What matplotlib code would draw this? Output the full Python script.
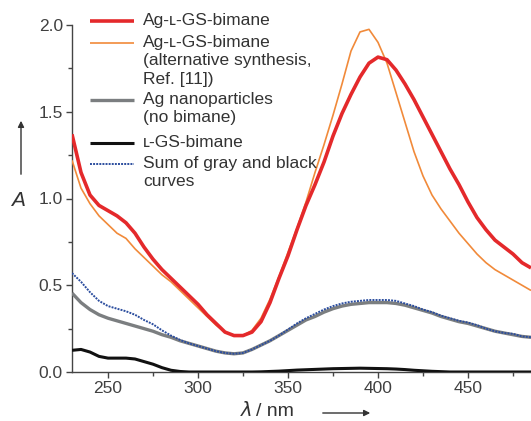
import numpy as np
import matplotlib.pyplot as plt

plt.rcParams['font.family'] = ['Liberation Sans', 'DejaVu Sans']

# wavelength grid (nm)
wl = [230, 235, 240, 245, 250, 255, 260, 265, 270, 275, 280, 285, 290, 295, 300,
      305, 310, 315, 320, 325, 330, 335, 340, 345, 350, 355, 360, 365, 370, 375,
      380, 385, 390, 395, 400, 405, 410, 415, 420, 425, 430, 435, 440, 445, 450,
      455, 460, 465, 470, 475, 480, 485]

ag_bimane = [1.37, 1.15, 1.02, 0.96, 0.93, 0.90, 0.86, 0.80, 0.72, 0.65, 0.59, 0.54, 0.49, 0.44, 0.39,
             0.33, 0.28, 0.23, 0.21, 0.21, 0.23, 0.29, 0.40, 0.54, 0.67, 0.82, 0.96, 1.08, 1.21, 1.36,
             1.49, 1.60, 1.70, 1.78, 1.815, 1.80, 1.74, 1.66, 1.57, 1.47, 1.37, 1.27, 1.17, 1.08, 0.98,
             0.89, 0.82, 0.76, 0.72, 0.68, 0.63, 0.60]

ag_bimane_alt = [1.22, 1.06, 0.97, 0.90, 0.85, 0.80, 0.77, 0.71, 0.66, 0.61, 0.56, 0.52, 0.47, 0.42, 0.37,
                 0.32, 0.27, 0.23, 0.21, 0.21, 0.24, 0.31, 0.42, 0.55, 0.69, 0.83, 0.98, 1.15, 1.31, 1.48,
                 1.66, 1.85, 1.96, 1.975, 1.90, 1.78, 1.61, 1.44, 1.27, 1.13, 1.02, 0.94, 0.87, 0.80, 0.74,
                 0.68, 0.63, 0.59, 0.56, 0.53, 0.50, 0.47]

ag_np = [0.455, 0.40, 0.36, 0.33, 0.31, 0.295, 0.28, 0.265, 0.25, 0.235, 0.215, 0.20, 0.18, 0.165, 0.15,
         0.135, 0.12, 0.11, 0.105, 0.11, 0.13, 0.155, 0.18, 0.21, 0.24, 0.27, 0.30, 0.32, 0.345, 0.365,
         0.38, 0.39, 0.395, 0.40, 0.40, 0.40, 0.395, 0.385, 0.37, 0.355, 0.34, 0.32, 0.305, 0.29, 0.28,
         0.265, 0.25, 0.235, 0.225, 0.215, 0.205, 0.20]

gs_bimane = [0.125, 0.13, 0.115, 0.09, 0.08, 0.08, 0.08, 0.075, 0.06, 0.045, 0.025, 0.01, 0.003, 0.0, 0.0,
             0.0, 0.0, 0.0, 0.0, 0.0, 0.0, 0.001, 0.003, 0.005, 0.008, 0.011, 0.013, 0.015, 0.017, 0.019,
             0.02, 0.021, 0.022, 0.021, 0.02, 0.019, 0.017, 0.014, 0.01, 0.007, 0.004, 0.002, 0.0, 0.0, 0.0,
             0.0, 0.0, 0.0, 0.0, 0.0, 0.0, 0.0]

sum_curve = [0.57, 0.52, 0.46, 0.41, 0.38, 0.365, 0.35, 0.33, 0.30, 0.275, 0.24, 0.21, 0.185, 0.165, 0.15,
             0.135, 0.12, 0.11, 0.105, 0.11, 0.13, 0.155, 0.18, 0.21, 0.245, 0.28, 0.31, 0.335, 0.36, 0.38,
             0.395, 0.405, 0.41, 0.415, 0.415, 0.415, 0.41, 0.395, 0.38, 0.36, 0.345, 0.325, 0.31, 0.295, 0.285,
             0.27, 0.25, 0.235, 0.225, 0.22, 0.205, 0.20]

labels = ["Ag-\u029f-GS-bimane",
          "Ag-\u029f-GS-bimane\n(alternative synthesis,\nRef. [11])",
          "Ag nanoparticles\n(no bimane)",
          "\u029f-GS-bimane",
          "Sum of gray and black\ncurves"]

W, H = 531, 421
fig = plt.figure(figsize=(W / 100, H / 100), dpi=100)
ax = fig.add_axes([72 / W, 1 - 372 / H, 1 - 72 / W, (372 - 25) / H])

styles = [
    dict(color='#e4292b', lw=2.6, ls='-'),
    dict(color='#f18a3a', lw=1.2, ls='-'),
    dict(color='#7b7e80', lw=2.4, ls='-'),
    dict(color='#111111', lw=2.2, ls='-'),
    dict(color='#2b4d9e', lw=1.4, ls=(0, (1, 0.6))),
]
series = [ag_bimane, ag_bimane_alt, ag_np, gs_bimane, sum_curve]
order = [2, 3, 4, 1, 0]
for i in order:
    ax.plot(wl, series[i], solid_capstyle='butt', zorder=3 + (i == 0), **styles[i])

ax.set_xlim(230, 485)
ax.set_ylim(0, 2.0)
ax.set_xticks([250, 300, 350, 400, 450])
ax.set_xticks([275, 325, 375, 425, 475], minor=True)
ax.set_yticks([0.0, 0.5, 1.0, 1.5, 2.0])
ax.set_yticks([0.25, 0.75, 1.25, 1.75], minor=True)
ax.set_yticklabels(['0.0', '0.5', '1.0', '1.5', '2.0'])
for s in ['top', 'right']:
    ax.spines[s].set_visible(False)
for s in ['left', 'bottom']:
    ax.spines[s].set_color('#444444')
    ax.spines[s].set_linewidth(1.0)
ax.tick_params(which='major', direction='out', length=4, width=1.0, color='#444444',
               labelsize=12.5, labelcolor='#404040', pad=2.5)
ax.tick_params(which='minor', direction='out', length=3, width=1.0, color='#444444')

# legend drawn by hand so the handle sits on the first text line
line_y = [21, 43, 100, 143, 164]
for i, y in enumerate(line_y):
    yf = 1 - y / H
    fig.add_artist(plt.Line2D([90 / W, 134 / W], [yf, yf], transform=fig.transFigure,
                              solid_capstyle='butt', **styles[i]))
    fig.text(143 / W, 1 - (y - 8) / H, labels[i], fontsize=12.5, color='#333333',
             va='top', ha='left', linespacing=1.28)

# axis labels with arrows
fig.text(18 / W, 1 - 200 / H, 'A', fontsize=15, style='italic', color='#333333',
         ha='center', va='center')
ax.annotate('', xy=(21 / W, 1 - 118 / H), xytext=(21 / W, 1 - 177 / H),
            xycoords='figure fraction',
            arrowprops=dict(arrowstyle='-|>', color='#333333', lw=1.0, mutation_scale=9))
fig.text(247 / W, 1 - 411 / H, '\u03bb', fontsize=14, color='#333333',
         ha='center', va='center', family=['DejaVu Sans'], style='italic')
fig.text(256 / W, 1 - 411 / H, '/ nm', fontsize=14, color='#333333',
         ha='left', va='center')
ax.annotate('', xy=(373 / W, 1 - 413 / H), xytext=(320 / W, 1 - 413 / H),
            xycoords='figure fraction',
            arrowprops=dict(arrowstyle='-|>', color='#333333', lw=1.0, mutation_scale=9))

fig.savefig('out.png', dpi=100)
